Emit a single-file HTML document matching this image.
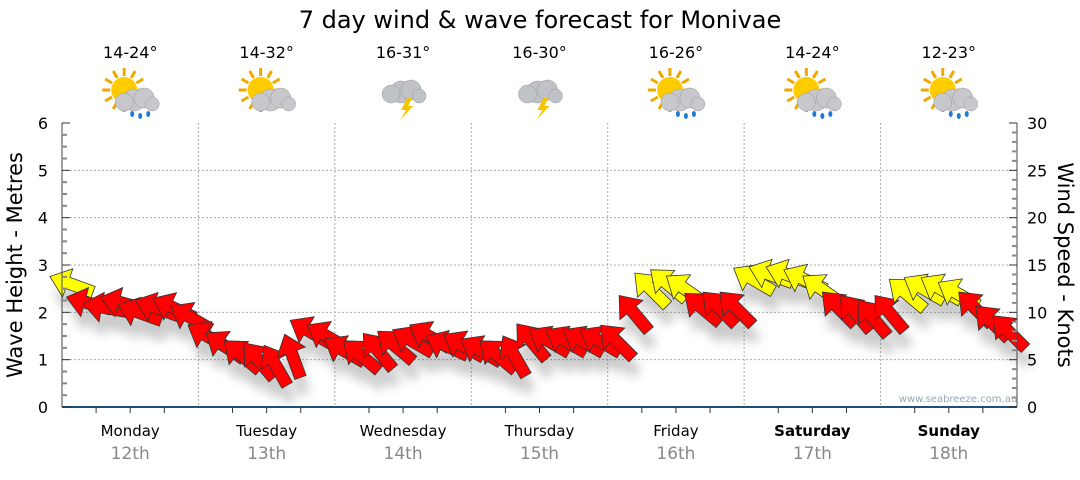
<!DOCTYPE html>
<html><head><meta charset="utf-8"><style>
body{margin:0;background:#fff;font-family:"Liberation Sans",Verdana,sans-serif}
svg text{font-family:"DejaVu Sans","Liberation Sans",sans-serif}
</style></head><body>
<svg id="c" width="1080" height="475" xmlns="http://www.w3.org/2000/svg">
<defs><filter id="sh" x="-50%" y="-50%" width="200%" height="200%"><feGaussianBlur stdDeviation="5"/></filter></defs>
<text x="540" y="28" text-anchor="middle" font-size="24" fill="#000">7 day wind &amp; wave forecast for Monivae</text>
<g id="grid"></g><g id="icons"></g><g id="shadows" filter="url(#sh)" opacity="0.3"></g><g id="arrows"></g><g id="axes"></g>
<text x="958" y="402" text-anchor="middle" font-size="10" fill="#9aa7b8">www.seabreeze.com.au</text>
<text transform="translate(22,265) rotate(-90)" text-anchor="middle" font-size="21">Wave Height - Metres</text>
<text transform="translate(1058,265) rotate(90)" text-anchor="middle" font-size="21">Wind Speed - Knots</text>
</svg>
<script>
const days=["Monday","Tuesday","Wednesday","Thursday","Friday","Saturday","Sunday"];
const dates=["12th","13th","14th","15th","16th","17th","18th"];
const temps=["14-24°","14-32°","16-31°","16-30°","16-26°","14-24°","12-23°"];
const icons=["rain","cloud","storm","storm","rain","rain","rain"];
const waveTicks=[0,1,2,3,4,5,6];
const windTicks=[0,5,10,15,20,25,30];
const windSpeed=[13,11,10.5,11,10,10.5,10.5,9.5, 7.5,6.5,5.5,5,4.5,5.5,8,7.5, 6,5.5,6,6.5,7,7.5,6.5,6.5, 6,5.5,5.5,7,7,7,7,7, 7,10,12.5,13,12.5,10.5,10.5,10.5, 13.5,14,14,13.5,12.5,10.5,10,9.5, 10,12,12.5,12.5,12,10.5,9,8];
const windDir=[290,285,280,285,290,290,295,300, 300,305,310,320,330,340,300,300, 300,310,320,310,300,300,295,300, 300,310,330,320,300,300,300,300, 315,320,315,310,305,310,315,315, 300,290,290,295,305,315,320,320, 320,310,300,300,300,315,315,315];
const X0=62,X1=1017,Y0=407,Y1=123;
const dayW=(X1-X0)/7;
const ywave=v=>Y0-v*(Y0-Y1)/6, ywind=v=>Y0-v*(Y0-Y1)/30;
const xt=i=>X0+(i+0.5)*dayW/8;
const NS="http://www.w3.org/2000/svg";
function mk(tag,attrs,parent,text){const e=document.createElementNS(NS,tag);for(const k in attrs)e.setAttribute(k,attrs[k]);if(text!==undefined)e.textContent=text;document.getElementById(parent).appendChild(e);return e;}
waveTicks.forEach(v=>{if(v>0&&v<6){const l=mk("line",{x1:X0,x2:X1,y1:ywave(v),y2:ywave(v),stroke:"#aaa","stroke-dasharray":"2,2"},"grid");

}});
for(let d=1;d<7;d++){const l=mk("line",{x1:X0+d*dayW,x2:X0+d*dayW,y1:Y1,y2:Y0,stroke:"#aaa","stroke-dasharray":"2,2"},"grid");

}
mk("line",{x1:X0,x2:X0,y1:Y1,y2:Y0,stroke:"#444"},"axes");
mk("line",{x1:X1,x2:X1,y1:Y1,y2:Y0,stroke:"#444"},"axes");
mk("line",{x1:X0,x2:X1,y1:Y0,y2:Y0,stroke:"#1f4e79","stroke-width":2},"axes");
for(let v=0;v<=6.001;v+=0.25){const maj=Math.abs(v-Math.round(v))<0.01;mk("line",{x1:X0,x2:X0+(maj?8:5),y1:ywave(v),y2:ywave(v),stroke:maj?"#333":"#888","stroke-width":maj?1:2},"axes");}
for(let v=0;v<=30;v+=1){const maj=v%5==0;mk("line",{x1:X1-(maj?8:5),x2:X1,y1:ywind(v),y2:ywind(v),stroke:maj?"#333":"#888","stroke-width":maj?1:2},"axes");}
waveTicks.forEach(v=>{const t=mk("text",{x:X0-14,y:ywave(v)+6,"text-anchor":"end","font-size":16},"axes",String(v));

});
windTicks.forEach(v=>{const t=mk("text",{x:X1+10,y:ywind(v)+6,"font-size":16},"axes",String(v));

});
for(let i=0;i<=28;i++){const x=X0+i*dayW/4;mk("line",{x1:x,x2:x,y1:Y0,y2:Y0+(i%4==0?0:6),stroke:"#333"},"axes");}
days.forEach((d,i)=>{const cx=X0+(i+0.5)*dayW;const bold=i>=5;
const a=mk("text",{x:cx,y:436,"text-anchor":"middle","font-size":15,"font-weight":bold?"bold":"normal"},"axes",d);


const b=mk("text",{x:cx,y:459,"text-anchor":"middle","font-size":17,fill:"#888"},"axes",dates[i]);


const t=mk("text",{x:cx,y:58,"text-anchor":"middle","font-size":16},"icons",temps[i]);


const g=mk("g",{transform:`translate(${cx},96)`},"icons");


if(icons[i]!="storm"){for(let k=0;k<12;k++){const an=k*Math.PI/6;const ln=document.createElementNS(NS,"line");ln.setAttribute("x1",-6+Math.cos(an)*14);ln.setAttribute("y1",-6+Math.sin(an)*14);ln.setAttribute("x2",-6+Math.cos(an)*22);ln.setAttribute("y2",-6+Math.sin(an)*22);ln.setAttribute("stroke","#f0a800");ln.setAttribute("stroke-width",3);g.appendChild(ln);}
const s=document.createElementNS(NS,"circle");s.setAttribute("cx",-6);s.setAttribute("cy",-6);s.setAttribute("r",13);s.setAttribute("fill","#ffcc00");g.appendChild(s);}
const cl=[[4,4,11],[14,2,10],[-6,6,9],[22,8,7]];
cl.forEach(c=>{const e=document.createElementNS(NS,"circle");e.setAttribute("cx",c[0]+(icons[i]=="storm"?-6:0));e.setAttribute("cy",c[1]+(icons[i]=="storm"?-8:0));e.setAttribute("r",c[2]);e.setAttribute("fill",icons[i]=="storm"?"#bfc3c8":"#c8c8cc");e.setAttribute("stroke","#999");e.setAttribute("stroke-width",0.5);g.appendChild(e);});
if(icons[i]=="storm"){const p=document.createElementNS(NS,"polygon");p.setAttribute("points","4,2 -2,14 3,14 -3,24 10,10 5,10 9,2");p.setAttribute("fill","#f5c400");g.appendChild(p);}
if(icons[i]=="rain"){[[2,18],[10,20],[18,18]].forEach(r=>{const e=document.createElementNS(NS,"ellipse");e.setAttribute("cx",r[0]);e.setAttribute("cy",r[1]);e.setAttribute("rx",2);e.setAttribute("ry",3);e.setAttribute("fill","#1e7ad8");g.appendChild(e);});}
});
const pts="-24,-6 3,-6 3,-15 22,0 3,15 3,6 -24,6";
windSpeed.forEach((v,i)=>{const x=xt(i),y=ywind(v);const ang=windDir[i]-90;
const col=v>=12?"#ffff00":"#ff0000";
const s=mk("polygon",{points:pts,transform:`translate(${x+4},${y+16}) rotate(${ang})`,fill:"#555"},"shadows");


const a=mk("polygon",{points:pts,transform:`translate(${x},${y}) rotate(${ang})`,fill:col,stroke:"#333","stroke-width":0.8},"arrows");

});
</script>
</body></html>
